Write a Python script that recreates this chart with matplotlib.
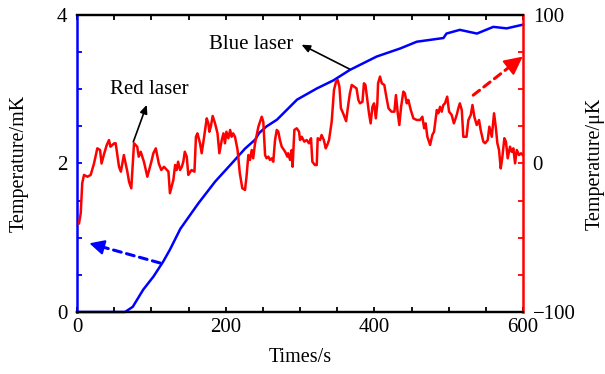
import matplotlib
matplotlib.use("Agg")
import matplotlib.pyplot as plt
from matplotlib.ticker import MultipleLocator

plt.rcParams['font.family'] = ['Liberation Serif', 'DejaVu Serif']
plt.rcParams['axes.unicode_minus'] = True

_BLUE = "#0000ff"
_RED = "#ff0000"

# blue laser temperature (left axis, mK)
blue_t = [0, 64.6, 75, 89, 103, 116, 125, 139, 163, 185.7, 208, 226, 239.5,
          245, 255, 269, 282, 296, 322.5, 345, 367, 385, 403, 435, 457, 493,
          497, 515, 538, 560, 578, 600]
blue_mk = [0, 0, 0.07, 0.30, 0.48, 0.68, 0.84, 1.12, 1.46, 1.755, 2.0, 2.20,
           2.32, 2.41, 2.50, 2.59, 2.72, 2.86, 3.01, 3.12, 3.26, 3.35, 3.44,
           3.55, 3.64, 3.69, 3.75, 3.80, 3.75, 3.84, 3.82, 3.87]

# red laser temperature (right axis, uK)
red_t = [2.7, 5, 7, 9.4, 14, 18.4, 22.9, 27.3, 31, 33, 36, 40, 43, 45, 50, 52,
         56.5, 59, 63, 67.7, 70, 73, 76.7, 81, 83, 85.7, 90, 94.6, 100, 102.7,
         106, 110, 113.4, 117, 123, 125, 129.6, 132, 134, 136, 138.6, 141, 143,
         145, 147.6, 149.7, 154, 158, 160, 162, 165.5, 167.7, 171, 174.5, 176.7,
         178, 180, 182.5, 185.7, 189, 191.5, 194.7, 197, 199, 201, 203.5, 206,
         208, 210, 212.5, 216, 219, 222.4, 226, 228, 230.5, 232.7, 235, 237,
         239.5, 241.7, 244, 248.5, 250.6, 253, 255, 257.4, 259.6, 262, 264,
         266.4, 268.7, 270.8, 273, 275.4, 280, 283, 284, 286.6, 288.8, 290,
         292.4, 295.6, 298.7, 300, 302.3, 305.8, 309, 312, 314.8, 316.6, 320,
         322.5, 323.8, 327, 329, 332, 334.6, 336.7, 339, 342.6, 345.7, 348.4,
         350.7, 353, 355, 358, 362, 365, 367, 369.6, 373, 376, 378.5, 380.7,
         384, 386, 388, 390.6, 392.8, 395, 397.4, 399.6, 402, 404, 405, 407.6,
         410, 413.4, 415.7, 419, 423, 427, 429, 431.5, 433.6, 436, 439, 441,
         443.6, 445.7, 449, 452.5, 457, 461.5, 464.6, 467, 469, 471.3, 475, 478,
         480.3, 484, 486, 488.4, 490.6, 492.8, 495, 498, 500.5, 504, 507, 510.8,
         513, 515, 517.6, 519.7, 524, 526.5, 529.7, 532, 534.5, 537.7, 540.8,
         543, 546.6, 549, 552.5, 554.7, 558, 561, 563.3, 565.5, 567.7, 570, 572,
         574.9, 577, 579.4, 582.5, 584.8, 587, 589.3, 591.6, 594.6, 597.3, 599.6]
red_uk = [-40.3, -33.5, -13.3, -7.7, -8.9, -7.7, 0.1, 10.2, 9.1, 0, 5.7, 12.5,
          15.8, 11.3, 13.6, 13.6, -2.2, -5.5, 5.7, -5.5, -12.3, -16.7, 13.6,
          11.3, 4.6, 7.9, 1.2, -8.9, 1.2, 6.9, 10.2, 0, -4.4, -2.2, -5.5, -20,
          -11.1, -1, -4.4, 1.2, -4.4, -2.2, 1.2, 7.9, 4.6, -7.7, -4.4, -5.5, 18,
          20.3, 13.6, 6.9, 18, 30.4, 27, 21.4, 24.8, 32, 27, 20.3, 6.9, 15.8,
          20.3, 13.6, 21.4, 17, 22.6, 18, 20.3, 18, 9.1, -6.6, -16.7, -17.8,
          -8.9, 5.7, 2.4, 9.1, 3.5, 13.6, 19.2, 24.8, 31.5, 28.1, 5.7, 3.5, 4.6,
          2.4, 3.5, 1.2, 15.8, 22.6, 21.4, 15.8, 11.3, 7.9, 4.6, 6.9, 2.4, 9.1,
          -2.2, 22.6, 23.7, 21.4, 15.8, 18, 14.7, 15.8, 13.6, 17, 1.2, -1, -1,
          17, 15.8, 19.2, 15.8, 10.2, 12.5, 15.8, 28.1, 49.5, 55, 56.2, 51.7,
          37.2, 33.8, 28.5, 40, 47, 52.9, 51.7, 50.6, 42.8, 40.5, 41.6, 54, 52.9,
          42.8, 33.8, 27, 38.2, 40.5, 30.4, 40.5, 54, 58.5, 54, 52.9, 46.1, 37.2,
          34.9, 34.9, 46.1, 33.8, 25.9, 38.2, 48.4, 47.3, 40.5, 42.8, 36, 30.4,
          29.3, 29.3, 31.5, 23.7, 27, 18, 12.5, 19.2, 21.4, 36, 33.8, 38.2, 34.9,
          39.4, 40.5, 45, 34.9, 32.7, 27, 32.7, 37.2, 40.5, 36, 18, 18, 29.3,
          32.7, 39.4, 31.5, 25.9, 29.3, 22.6, 14.7, 13.6, 15.8, 24.8, 18, 33.8,
          24.8, 13.6, 9.1, -3.3, 3.5, 17, 14.7, 3.5, 11.3, 7.9, 10.2, 0.1, 9.1,
          5.7, 6.9, 5.7]


def _dashed_arrow(ax, tail, head, color, head_scale=1.0):
    # dashed shaft plus a solid head, so the head edges stay clean
    ax.annotate("", xy=head, xytext=tail,
                arrowprops=dict(arrowstyle="-", color=color, lw=2.2,
                                linestyle=(0, (2.6, 1.8)), shrinkA=0, shrinkB=5))
    dx = head[0] - tail[0]
    dy = head[1] - tail[1]
    style = "-|>,head_length=%.2f,head_width=%.2f" % (0.9 * head_scale,
                                                      0.45 * head_scale)
    ax.annotate("", xy=head, xytext=(head[0] - dx * 0.2, head[1] - dy * 0.2),
                arrowprops=dict(arrowstyle=style, color=color, lw=1.5,
                                shrinkA=0, shrinkB=0))


fig = plt.figure(figsize=(6.05, 3.74), dpi=100)
ax = fig.add_axes([0.1273, 0.1658, 0.7372, 0.7941])
ax2 = ax.twinx()

ax.plot(blue_t, blue_mk, color=_BLUE, lw=1.8, clip_on=False, zorder=3)
ax2.plot(red_t, red_uk, color=_RED, lw=1.8)

ax.set_xlim(0, 600)
ax.set_ylim(0, 4)
ax2.set_ylim(-100, 100)

ax.xaxis.set_major_locator(MultipleLocator(200))
ax.xaxis.set_minor_locator(MultipleLocator(50))
ax.yaxis.set_major_locator(MultipleLocator(2))
ax.yaxis.set_minor_locator(MultipleLocator(0.5))
ax2.yaxis.set_major_locator(MultipleLocator(100))
ax2.yaxis.set_minor_locator(MultipleLocator(25))

for spine in ["top", "bottom"]:
    ax.spines[spine].set_linewidth(1.6)
    ax2.spines[spine].set_linewidth(1.6)
ax.spines["left"].set_color(_BLUE)
ax.spines["left"].set_linewidth(1.8)
ax.spines["right"].set_visible(False)
ax2.spines["left"].set_visible(False)
ax2.spines["right"].set_color(_RED)
ax2.spines["right"].set_linewidth(1.8)

ax.tick_params(axis="x", which="both", direction="in", top=True, length=3.5,
               width=1.3, labelsize=15, pad=4)
ax.tick_params(axis="y", which="both", direction="in", length=3.5, width=1.3,
               color=_BLUE, labelsize=15, pad=7)
ax2.tick_params(axis="y", which="both", direction="in", length=3.5, width=1.3,
                color=_RED, labelsize=15, pad=7)

ax.set_xlabel("Times/s", fontsize=14.5, labelpad=8)
ax.set_ylabel("Temperature/mK", fontsize=14.5, labelpad=20)
ax2.set_ylabel("Temperature/μK", fontsize=14.5, labelpad=7)

# labels with pointer arrows
ax.annotate("Blue laser", xy=(302, 3.60), xytext=(234, 3.60), fontsize=15,
            ha="center", va="center")
ax.annotate("", xy=(302, 3.60), xytext=(367, 3.27),
            arrowprops=dict(arrowstyle="-|>,head_length=0.5,head_width=0.22",
                            color="black", lw=1.2, shrinkA=0, shrinkB=0))
ax.text(97, 2.99, "Red laser", fontsize=15, ha="center", va="center")
ax.annotate("", xy=(93.8, 2.79), xytext=(75.7, 2.29),
            arrowprops=dict(arrowstyle="-|>,head_length=0.5,head_width=0.22",
                            color="black", lw=1.2, shrinkA=0, shrinkB=0))

_dashed_arrow(ax, (111.7, 0.66), (16.6, 0.925), _BLUE)
_dashed_arrow(ax, (533, 2.92), (599.6, 3.44), _RED, head_scale=1.25)

fig.savefig("out.png", dpi=100, facecolor="white")
